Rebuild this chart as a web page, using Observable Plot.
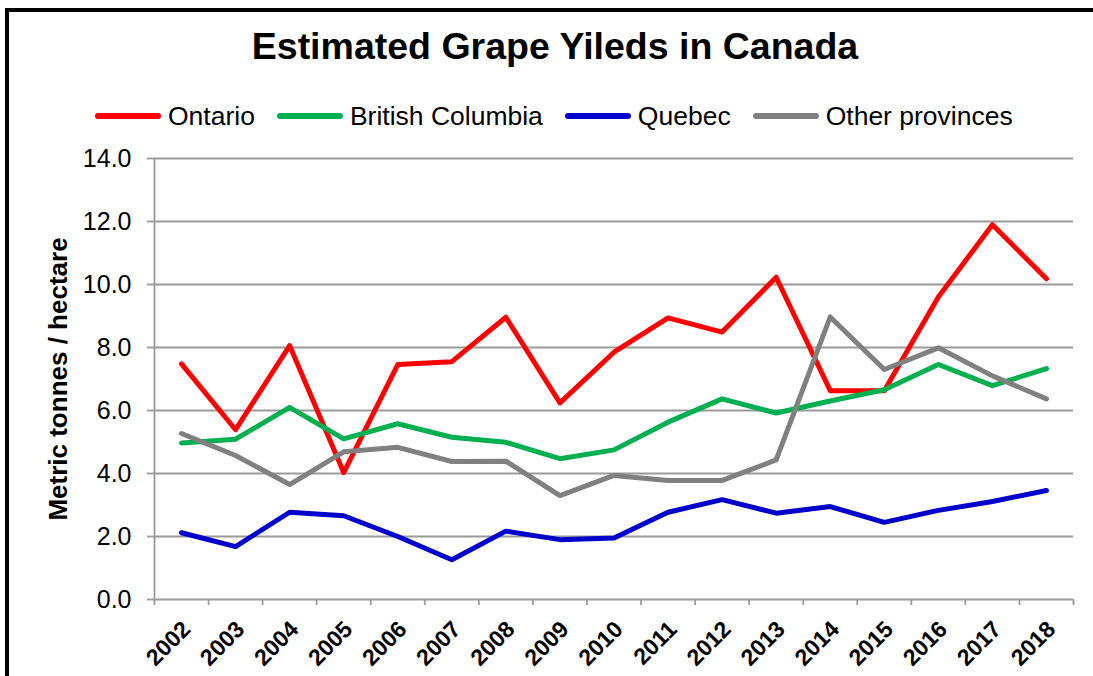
<!DOCTYPE html>
<html>
<head>
<meta charset="utf-8">
<script src="https://cdn.jsdelivr.net/npm/d3@7"></script>
<script src="https://cdn.jsdelivr.net/npm/@observablehq/plot@0.6"></script>
<style>
  html, body { margin: 0; padding: 0; background: #fff; }
  body { width: 1093px; height: 676px; overflow: hidden; font-family: "Liberation Sans", Arial, sans-serif; }
  #wrap { position: relative; width: 1093px; height: 676px; }
  #frame { position: absolute; left: 5px; top: 8px; right: -10px; bottom: -10px; border-top: 4px solid #000; border-left: 4px solid #000; }
  #title { position: absolute; top: 26px; left: 0; width: 1110px; text-align: center; font-weight: bold; font-size: 37.5px; line-height: 40px; color: #000; }
  #legend { position: absolute; top: 101px; left: 95px; display: flex; align-items: center; gap: 22px; font-size: 26.5px; line-height: 30px; color: #000; }
  .item { display: flex; align-items: center; gap: 7px; }
  .sw { width: 66px; height: 6px; border-radius: 3px; }
  #chart { position: absolute; top: 140px; left: 0; }
</style>
</head>
<body>
<div id="wrap">
  <div id="frame"></div>
  <div id="title">Estimated Grape Yileds in Canada</div>
  <div id="legend"></div>
  <div id="chart"></div>
</div>
<script>
const years = [2002, 2003, 2004, 2005, 2006, 2007, 2008, 2009, 2010, 2011, 2012, 2013, 2014, 2015, 2016, 2017, 2018];
const seriesNames = ["Ontario", "British Columbia", "Quebec", "Other provinces"];
const seriesColors = ["#FF0000", "#00B050", "#0000CC", "#808080"];
const ontario = [7.48, 5.39, 8.06, 4.03, 7.46, 7.55, 8.96, 6.24, 7.85, 8.94, 8.49, 10.23, 6.63, 6.63, 9.6, 11.9, 10.18];
const britishColumbia = [4.97, 5.09, 6.1, 5.1, 5.58, 5.15, 4.99, 4.47, 4.75, 5.63, 6.37, 5.92, 6.3, 6.66, 7.46, 6.79, 7.33];
const quebec = [2.12, 1.68, 2.77, 2.66, 2.0, 1.26, 2.17, 1.9, 1.95, 2.77, 3.17, 2.74, 2.95, 2.45, 2.83, 3.11, 3.46];
const otherProvinces = [5.27, 4.57, 3.65, 4.69, 4.83, 4.38, 4.39, 3.3, 3.94, 3.78, 3.78, 4.43, 8.97, 7.3, 7.99, 7.1, 6.37];
const yTicks = [0, 2, 4, 6, 8, 10, 12, 14];
const yLabel = "Metric tonnes / hectare";

const seriesValues = [ontario, britishColumbia, quebec, otherProvinces];
const rows = [];
seriesNames.forEach((name, i) => {
  years.forEach((yr, j) => rows.push({series: name, year: yr, value: seriesValues[i][j]}));
});
const boundaries = years.map(y => y - 0.5).concat([years[years.length - 1] + 0.5]);

// Legend
const legend = document.getElementById("legend");
seriesNames.forEach((name, i) => {
  const it = document.createElement("div");
  it.className = "item";
  const sw = document.createElement("div");
  sw.className = "sw";
  sw.style.background = seriesColors[i];
  const t = document.createElement("span");
  t.textContent = name;
  it.appendChild(sw); it.appendChild(t);
  legend.appendChild(it);
});

const gridColor = "#9a9a9a";
const chart = Plot.plot({
  width: 1093,
  height: 536,
  marginTop: 18,
  marginBottom: 77,
  marginLeft: 154,
  marginRight: 20,
  style: { fontFamily: "'Liberation Sans', Arial, sans-serif", background: "transparent", overflow: "visible" },
  x: { type: "linear", domain: [years[0] - 0.5, years[years.length - 1] + 0.5] },
  y: { domain: [0, 14] },
  color: { domain: seriesNames, range: seriesColors },
  marks: [
    Plot.ruleY(yTicks, { stroke: gridColor, strokeWidth: 1.8 }),
    Plot.ruleX([years[0] - 0.5], { stroke: gridColor, strokeWidth: 1.8 }),
    Plot.axisX({ ticks: boundaries, tickFormat: () => "", tickSize: 6, stroke: gridColor, strokeWidth: 1.8, label: null }),
    Plot.axisY({
      ticks: yTicks, tickFormat: d3.format(".1f"), tickSize: 7, tickPadding: 16,
      stroke: gridColor, strokeWidth: 1.8, fontSize: 25, color: "#000", fill: "#000", label: null
    }),
    Plot.axisX({
      ticks: years, tickFormat: d => String(d), tickSize: 0, tickPadding: 26, dx: 5,
      tickRotate: -45, fontSize: 23, fontWeight: "bold", fill: "#000", label: null
    }),
    Plot.line(rows, {
      x: "year", y: "value", z: "series", stroke: "series",
      strokeWidth: 5, strokeLinecap: "round", strokeLinejoin: "round"
    }),
    Plot.text([yLabel], {
      frameAnchor: "left", textAnchor: "middle", dx: -96, rotate: -90, fontSize: 26, fontWeight: "bold", fill: "#000"
    })
  ]
});
document.getElementById("chart").appendChild(chart);
</script>
</body>
</html>
